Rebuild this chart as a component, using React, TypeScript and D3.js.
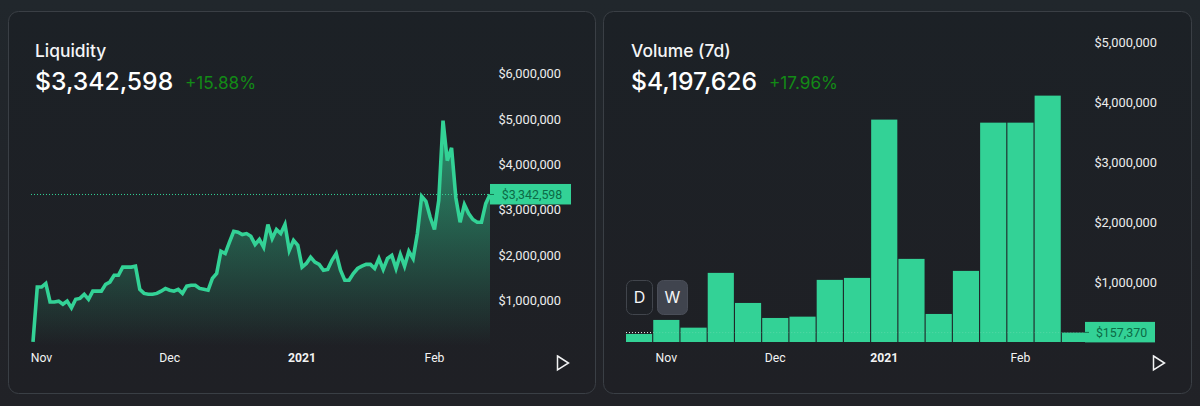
import * as d3 from "d3";

// daily liquidity, $M
const liquidityStart = new Date(2020, 9, 30);
const liquidity = [
  0.09, 1.3, 1.3, 1.38, 0.97, 0.97, 0.99, 0.92, 0.99, 0.84, 1.03, 1.05, 1.14, 1.03, 1.21, 1.21,
  1.21, 1.36, 1.41, 1.56, 1.56, 1.74, 1.74, 1.74, 1.76, 1.25, 1.16, 1.14, 1.14, 1.16, 1.21, 1.27,
  1.23, 1.21, 1.25, 1.16, 1.32, 1.34, 1.34, 1.27, 1.25, 1.23, 1.49, 1.6, 2.09, 2.04, 2.29, 2.53,
  2.51, 2.46, 2.48, 2.42, 2.24, 2.35, 2.18, 2.68, 2.37, 2.57, 2.48, 2.68, 2.11, 2.33, 2.22, 1.74,
  1.82, 1.96, 1.85, 1.8, 1.67, 1.69, 1.89, 2.04, 1.67, 1.45, 1.45, 1.6, 1.71, 1.76, 1.8, 1.8,
  1.71, 1.93, 1.69, 1.93, 2.0, 1.71, 2.02, 1.76, 2.09, 1.93, 2.48, 3.3, 3.19, 2.84, 2.57, 3.21,
  4.97, 4.09, 4.37, 3.27, 2.73, 3.12, 2.92, 2.79, 2.73, 2.73, 3.14, 3.342598,
];
const liquidityTicks = [1, 2, 3, 4, 5, 6];
const liquidityMonths = [
  { label: "Nov", date: new Date(2020, 10, 1), bold: false },
  { label: "Dec", date: new Date(2020, 11, 1), bold: false },
  { label: "2021", date: new Date(2021, 0, 1), bold: true },
  { label: "Feb", date: new Date(2021, 1, 1), bold: false },
];

// weekly volume, $M
const volume = [
  0.134, 0.369, 0.24, 1.156, 0.653, 0.402, 0.424, 1.039, 1.072, 3.719, 1.39, 0.469, 1.189, 3.668,
  3.668, 4.12, 0.15737,
];
const volumeTicks = [1, 2, 3, 4, 5];
const volumeMonths = [
  { label: "Nov", index: 1, bold: false },
  { label: "Dec", index: 5, bold: false },
  { label: "2021", index: 9, bold: true },
  { label: "Feb", index: 14, bold: false },
];

const GREEN = "#33d296";
const AXIS_FONT = "Roboto, sans-serif";
const UI_FONT = "Inter, sans-serif";
const money = d3.format("$,");

const day = (i: number) => d3.timeDay.offset(liquidityStart, i);

function Card({ x, width }: { x: number; width: number }) {
  return (
    <rect x={x} y={11.5} width={width} height={382} rx={10} fill="url(#cardBg)" stroke="#3a3f45" />
  );
}

function Header(props: { x: number; title: string; value: string; delta: string; deltaX: number }) {
  return (
    <g fontFamily={UI_FONT}>
      <text x={props.x} y={56.5} fill="#f4f5f6" fontSize={17.4} fontWeight={500}>
        {props.title}
      </text>
      <text x={props.x} y={89.5} fill="#fff" fontSize={24.7} fontWeight={500}>
        {props.value}
      </text>
      <text x={props.deltaX} y={88.5} fill="#138a16" fontSize={17.2} fontWeight={400}>
        {props.delta}
      </text>
    </g>
  );
}

function Play({ x, y }: { x: number; y: number }) {
  return (
    <path
      d={`M${x} ${y}L${x + 11} ${y + 7}L${x} ${y + 14}Z`}
      fill="none"
      stroke="#f1f2f3"
      strokeWidth={1.5}
    />
  );
}

function PriceTag(props: { x: number; y: number; width: number; text: string }) {
  return (
    <g>
      <rect x={props.x} y={props.y - 10.5} width={props.width} height={20.5} fill={GREEN} />
      <line x1={props.x} x2={props.x + 4} y1={props.y} y2={props.y} stroke="#11754f" />
      <text
        x={props.x + props.width / 2 + 1.5}
        y={props.y + 4.3}
        textAnchor="middle"
        fontFamily={AXIS_FONT}
        fontSize={12.4}
        fill="#0b6b46"
      >
        {props.text}
      </text>
    </g>
  );
}

function LiquidityChart() {
  const x = d3
    .scaleTime()
    .domain([liquidityStart, day(liquidity.length - 1)])
    .range([33, 490]);
  const y = d3.scaleLinear().domain([0, 6]).range([346, 74]);

  const line = d3
    .line<number>()
    .x((_, i) => x(day(i)))
    .y((d) => y(d));
  const area = d3
    .area<number>()
    .x((_, i) => x(day(i)))
    .y0(y(0))
    .y1((d) => y(d));
  const last = liquidity[liquidity.length - 1];

  return (
    <g>
      <path d={area(liquidity) ?? ""} fill="url(#areaFill)" />
      <path
        d={line(liquidity) ?? ""}
        fill="none"
        stroke={GREEN}
        strokeWidth={3.6}
        strokeLinejoin="miter"
      />
      <line
        x1={31}
        x2={490}
        y1={y(last)}
        y2={y(last)}
        stroke={GREEN}
        strokeWidth={1}
        strokeDasharray="1 2"
      />
      {liquidityTicks.map((t) => (
        <text
          key={t}
          x={561}
          y={y(t) + 4.3}
          textAnchor="end"
          fontFamily={AXIS_FONT}
          fontSize={12.8}
          fill="#eceded"
        >
          {money(t * 1e6)}
        </text>
      ))}
      {liquidityMonths.map((m) => (
        <text
          key={m.label}
          x={x(m.date)}
          y={362}
          textAnchor="middle"
          fontFamily={AXIS_FONT}
          fontSize={12.2}
          fontWeight={m.bold ? 700 : 400}
          fill="#f2f3f3"
        >
          {m.label}
        </text>
      ))}
      <PriceTag x={490} y={y(last)} width={81} text={money(Math.round(last * 1e6))} />
      <Play x={557.5} y={356} />
    </g>
  );
}

function VolumeChart() {
  const x = d3
    .scaleBand<number>()
    .domain(d3.range(volume.length))
    .range([626, 1088])
    .paddingInner(0.04)
    .paddingOuter(0);
  const y = d3.scaleLinear().domain([0, 5]).range([342, 43]);
  const last = volume[volume.length - 1];

  return (
    <g>
      {volume.map((v, i) => (
        <rect
          key={i}
          x={x(i)}
          y={y(v)}
          width={x.bandwidth()}
          height={y(0) - y(v)}
          fill={GREEN}
        />
      ))}
      {/* price line only shows clearly over the first bar, it is nearly lost on the others */}
      <line
        x1={626}
        x2={x(1)}
        y1={y(last)}
        y2={y(last)}
        stroke="#eef7f3"
        strokeWidth={1}
        strokeDasharray="1 2"
      />
      <line
        x1={x(1)}
        x2={1085}
        y1={y(last)}
        y2={y(last)}
        stroke="#eef7f3"
        strokeWidth={1}
        strokeDasharray="1 2"
        opacity={0.18}
      />
      {volumeTicks.map((t) => (
        <text
          key={t}
          x={1157}
          y={y(t) + 4.3}
          textAnchor="end"
          fontFamily={AXIS_FONT}
          fontSize={12.8}
          fill="#eceded"
        >
          {money(t * 1e6)}
        </text>
      ))}
      {volumeMonths.map((m) => (
        <text
          key={m.label}
          x={(x(m.index) ?? 0) + x.bandwidth() / 2}
          y={362}
          textAnchor="middle"
          fontFamily={AXIS_FONT}
          fontSize={12.2}
          fontWeight={m.bold ? 700 : 400}
          fill="#f2f3f3"
        >
          {m.label}
        </text>
      ))}
      <PriceTag x={1085} y={y(last) - 0.2} width={70} text={money(Math.round(last * 1e6))} />
      <Play x={1153.5} y={356} />

      <g fontFamily={UI_FONT} fontSize={16} fill="#f4f5f6" textAnchor="middle">
        <rect x={626.5} y={280.5} width={26} height={34} rx={6} fill="#1e2126" stroke="#41454c" />
        <text x={639.5} y={303}>
          D
        </text>
        <rect x={657.5} y={280.5} width={30} height={34} rx={6} fill="#40444e" stroke="#4a4e58" />
        <text x={672.5} y={303}>
          W
        </text>
      </g>
    </g>
  );
}

export default function App() {
  return (
    <svg
      width={1200}
      height={406}
      viewBox="0 0 1200 406"
      style={{ position: "fixed", left: 0, top: 0, display: "block" }}
    >
      <defs>
        <linearGradient id="cardBg" x1="0" x2="0" y1="0" y2="1">
          <stop offset="0" stopColor="#1c2126" />
          <stop offset="1" stopColor="#1f2025" />
        </linearGradient>
        <linearGradient id="pageBg" x1="0" x2="0" y1="0" y2="1">
          <stop offset="0" stopColor="#21272c" />
          <stop offset="1" stopColor="#212227" />
        </linearGradient>
        <linearGradient id="areaFill" x1="0" x2="0" y1="0" y2="1">
          <stop offset="0" stopColor={GREEN} stopOpacity={0.66} />
          <stop offset="1" stopColor={GREEN} stopOpacity={0} />
        </linearGradient>
      </defs>
      <rect width={1200} height={406} fill="url(#pageBg)" />
      <Card x={8.5} width={587} />
      <Card x={603.5} width={588} />
      <Header x={35} title="Liquidity" value="$3,342,598" delta="+15.88%" deltaX={185} />
      <Header x={631} title="Volume (7d)" value="$4,197,626" delta="+17.96%" deltaX={769} />
      <LiquidityChart />
      <VolumeChart />
    </svg>
  );
}
